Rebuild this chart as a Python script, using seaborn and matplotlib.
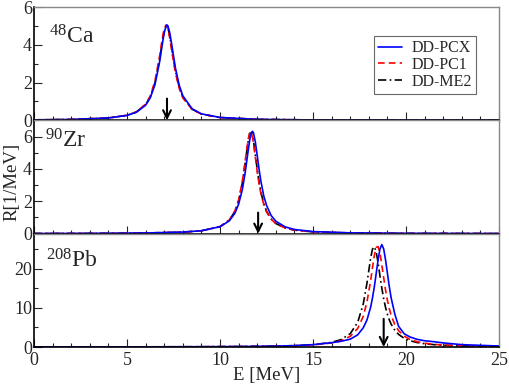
import numpy as np
import pandas as pd
import matplotlib
matplotlib.use('Agg')
import matplotlib.pyplot as plt
import seaborn as sns

# strength functions R(E) [1/MeV]
models = ['DD-PCX', 'DD-PC1', 'DD-ME2']

ca_E = [0, 2, 4, 5, 5.5, 6, 6.25, 6.5, 6.75, 6.9, 7.0, 7.1, 7.15, 7.2, 7.3, 7.4,
        7.6, 7.8, 8.0, 8.5, 9, 10, 12, 15, 20, 25]
ca_pcx = [0.025, 0.047, 0.124, 0.26, 0.425, 0.80, 1.19, 1.88, 3.08, 4.04, 4.63, 5.0, 5.05,
          5.0, 4.63, 4.04, 2.79, 1.88, 1.30, 0.61, 0.344, 0.151, 0.053, 0.020, 0.008, 0.004]
ca_pc1 = [0.025, 0.048, 0.127, 0.27, 0.45, 0.86, 1.29, 2.07, 3.39, 4.35, 4.86, 5.05, 5.0,
          4.86, 4.35, 3.71, 2.53, 1.71, 1.19, 0.57, 0.327, 0.146, 0.052, 0.020, 0.008, 0.004]
ca_me2 = [0.025, 0.047, 0.125, 0.265, 0.44, 0.83, 1.24, 1.97, 3.22, 4.18, 4.72, 4.98, 4.98,
          4.9, 4.45, 3.85, 2.65, 1.79, 1.24, 0.59, 0.335, 0.148, 0.052, 0.020, 0.008, 0.004]

zr_E = [0, 2, 4, 6, 8, 9, 10, 10.5, 10.8, 11.0, 11.2, 11.35, 11.5, 11.6, 11.7, 11.75,
        11.8, 11.9, 12.0, 12.1, 12.2, 12.35, 12.5, 12.75, 13, 13.5, 14, 15, 17, 20, 25]
zr_pcx = [0.010, 0.015, 0.023, 0.042, 0.098, 0.181, 0.43, 0.79, 1.26, 1.82, 2.72, 3.74,
          5.01, 5.80, 6.27, 6.32, 6.22, 5.67, 4.83, 3.98, 3.23, 2.35, 1.75, 1.12, 0.77,
          0.42, 0.26, 0.129, 0.050, 0.020, 0.008]
zr_pc1 = [0.009, 0.014, 0.022, 0.040, 0.095, 0.178, 0.44, 0.85, 1.41, 2.08, 3.22, 4.45,
          5.75, 6.25, 6.19, 5.95, 5.59, 4.72, 3.84, 3.08, 2.47, 1.81, 1.35, 0.89, 0.62,
          0.35, 0.22, 0.111, 0.044, 0.018, 0.007]
zr_me2 = [0.009, 0.014, 0.022, 0.040, 0.094, 0.176, 0.43, 0.83, 1.37, 2.02, 3.12, 4.32,
          5.62, 6.2, 6.22, 6.05, 5.72, 4.88, 3.98, 3.2, 2.56, 1.87, 1.39, 0.91, 0.63,
          0.35, 0.22, 0.110, 0.044, 0.018, 0.007]

pb_E = [0, 3, 6, 9, 11, 13, 14, 15, 16, 16.5, 17, 17.4, 17.7, 17.9, 18.1, 18.2, 18.3,
        18.4, 18.5, 18.6, 18.7, 18.8, 18.9, 19.0, 19.1, 19.2, 19.4, 19.6, 19.9, 20.2,
        20.6, 21, 21.5, 22, 23, 25]
pb_pcx = [0.02, 0.03, 0.04, 0.07, 0.12, 0.22, 0.35, 0.6, 1.1, 1.45, 2.0, 3.1, 4.9, 6.9,
          10.2, 12.6, 15.5, 18.9, 22.3, 25.1, 26.2, 25.1, 22.3, 18.9, 15.5, 12.6, 8.4,
          5.3, 3.4, 2.6, 1.95, 1.6, 1.35, 1.05, 0.6, 0.25]
pb_pc1 = [0.019, 0.027, 0.042, 0.072, 0.116, 0.215, 0.32, 0.53, 1.03, 1.58, 2.72, 4.71,
          7.82, 11.5, 17.0, 20.4, 23.5, 25.5, 25.7, 24.0, 21.0, 17.7, 14.6, 11.96, 9.82,
          8.12, 5.71, 4.18, 2.79, 1.97, 1.34, 0.97, 0.68, 0.51, 0.31, 0.15]
pb_me2 = [0.019, 0.027, 0.043, 0.074, 0.12, 0.23, 0.35, 0.58, 1.18, 1.88, 3.40, 6.27,
          10.96, 16.3, 22.8, 25.06, 25.66, 24.3, 21.5, 18.2, 15.07, 12.35, 10.13, 8.36,
          6.97, 5.86, 4.27, 3.23, 2.24, 1.63, 1.14, 0.84, 0.60, 0.46, 0.29, 0.14]

# experimental centroids (arrows)
exp_E = [7.15, 12.05, 18.8]
nuclei = ['$^{48}$Ca', '$^{90}$Zr', '$^{208}$Pb']

sns.set_style('ticks')
plt.rcParams['font.family'] = ['Liberation Serif', 'DejaVu Serif']
plt.rcParams['mathtext.fontset'] = 'custom'
plt.rcParams['mathtext.rm'] = 'Liberation Serif'
plt.rcParams['mathtext.default'] = 'regular'

colors = {'DD-PCX': '#0000ff', 'DD-PC1': '#ff0000', 'DD-ME2': '#000000'}
styles = {'DD-PCX': '-', 'DD-PC1': (0, (4, 2.5)), 'DD-ME2': (0, (5, 2, 1, 2))}

panels = [
    (ca_E, [ca_pcx, ca_pc1, ca_me2], 6, 2, 1, 1.15, (0.032, 0.68)),
    (zr_E, [zr_pcx, zr_pc1, zr_me2], 7, 2, 1, 1.3, (0.024, 0.76)),
    (pb_E, [pb_pcx, pb_pc1, pb_me2], 29, 10, 5, 7.2, (0.026, 0.70)),
]

fig = plt.figure(figsize=(5.09, 3.86), dpi=100)
gs = fig.add_gridspec(3, 1, left=34 / 509, right=499 / 509,
                      top=1 - 7 / 386, bottom=1 - 347 / 386, hspace=0)

axes = []
for i, (E, series, ymax, major, minor, arr_top, lab_pos) in enumerate(panels):
    ax = fig.add_subplot(gs[i])
    axes.append(ax)
    rows = []
    for m, vals in zip(models, series):
        rows += [(e, v, m) for e, v in zip(E, vals)]
    df = pd.DataFrame(rows, columns=['E', 'R', 'model'])
    for m in models[::-1]:
        sub = df[df.model == m]
        sns.lineplot(data=sub, x='E', y='R', ax=ax, color=colors[m],
                     linestyle=styles[m], lw=1.2, label=m, sort=False, legend=False)
    ax.annotate('', xy=(exp_E[i], 0.0), xytext=(exp_E[i], arr_top),
                arrowprops=dict(arrowstyle='->', lw=1.5, color='k',
                                mutation_scale=14, shrinkA=0, shrinkB=0))
    ax.set_xlim(0, 25)
    ax.set_ylim(0, ymax)
    ax.set_xticks(np.arange(0, 26, 5))
    ax.set_xticks(np.arange(0, 26, 1), minor=True)
    ax.set_yticks(np.arange(0, ymax + 0.01, major))
    ax.set_yticks(np.arange(0, ymax + 0.01, minor), minor=True)
    ax.tick_params(which='both', direction='in', top=False, right=False,
                   labelsize=13, pad=1.5)
    ax.tick_params(axis='x', pad=3.5)
    ax.tick_params(which='major', length=5.8, width=0.8)
    ax.tick_params(which='minor', length=3, width=0.8)
    ax.set_xlabel('')
    ax.set_ylabel('')
    for s in ['top', 'right']:
        ax.spines[s].set_color('#888888')
        ax.spines[s].set_linewidth(1.0)
    for s in ['left', 'bottom']:
        ax.spines[s].set_color('k')
        ax.spines[s].set_linewidth(1.2)
    if i < 2:
        ax.tick_params(labelbottom=False)
    ax.text(lab_pos[0], lab_pos[1], nuclei[i], transform=ax.transAxes,
            fontsize=17, va='baseline', ha='left')

h, l = axes[0].get_legend_handles_labels()
order = [l.index(m) for m in models]
leg = axes[0].legend([h[k] for k in order], models, loc='upper left',
                     bbox_to_anchor=(0.731, 0.743), borderaxespad=0,
                     frameon=True, fancybox=False, fontsize=11.5, handlelength=1.5,
                     handletextpad=0.6, labelspacing=0.05, borderpad=0.25)
leg.get_frame().set_edgecolor('#444444')
leg.get_frame().set_linewidth(0.8)

axes[2].set_xlabel('E [MeV]', fontsize=13.5, labelpad=-1)
fig.text(12 / 509, 1 - 182 / 386, 'R[1/MeV]', rotation=90, fontsize=13.5,
         ha='center', va='center')

fig.savefig('out.png', dpi=100)
